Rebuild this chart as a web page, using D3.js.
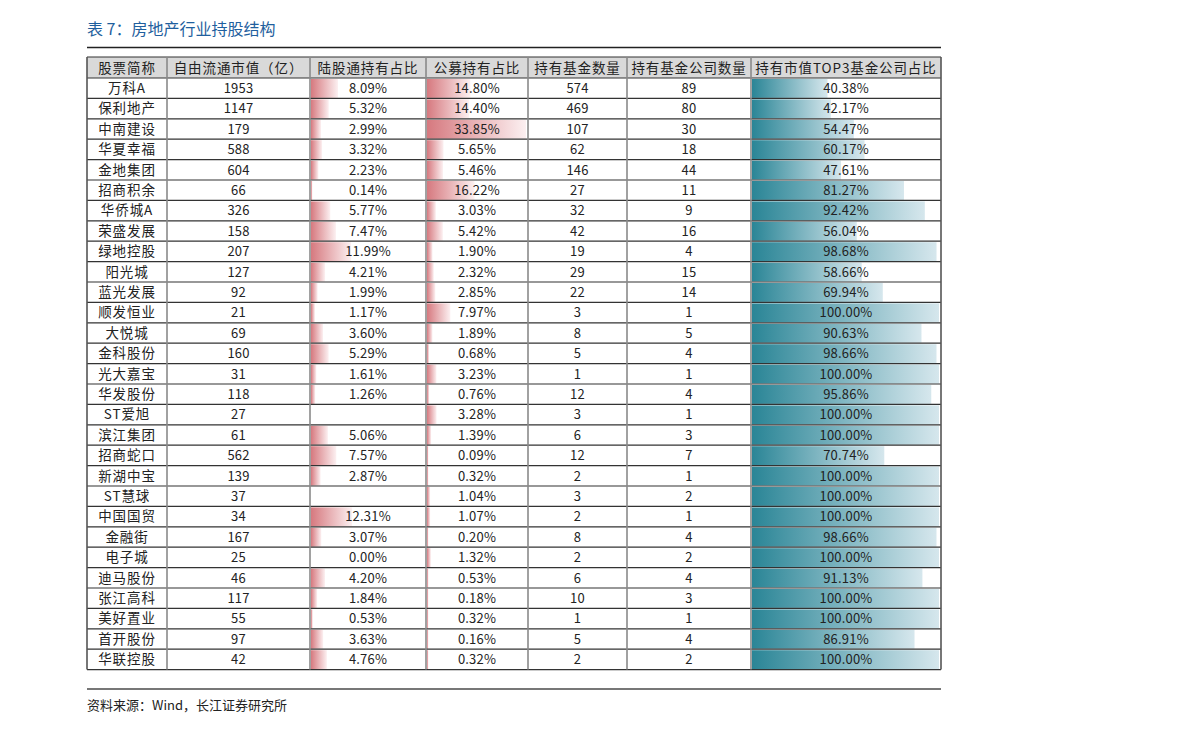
<!DOCTYPE html>
<html><head><meta charset="utf-8">
<script src="https://cdn.jsdelivr.net/npm/d3@7"></script>
<style>
body{margin:0;background:#fff;}
svg text{font-family:"Noto Sans CJK SC","DejaVu Sans",sans-serif;}
</style></head>
<body><svg id="c" width="1191" height="733"></svg>
<script>
const headers = ["股票简称","自由流通市值（亿）","陆股通持有占比","公募持有占比","持有基金数量","持有基金公司数量","持有市值TOP3基金公司占比"];
const names = ["万科A","保利地产","中南建设","华夏幸福","金地集团","招商积余","华侨城A","荣盛发展","绿地控股","阳光城","蓝光发展","顺发恒业","大悦城","金科股份","光大嘉宝","华发股份","ST爱旭","滨江集团","招商蛇口","新湖中宝","ST慧球","中国国贸","金融街","电子城","迪马股份","张江高科","美好置业","首开股份","华联控股"];
const floatCap = [1953,1147,179,588,604,66,326,158,207,127,92,21,69,160,31,118,27,61,562,139,37,34,167,25,46,117,55,97,42];
const hkShare = [8.09,5.32,2.99,3.32,2.23,0.14,5.77,7.47,11.99,4.21,1.99,1.17,3.60,5.29,1.61,1.26,null,5.06,7.57,2.87,null,12.31,3.07,0.00,4.20,1.84,0.53,3.63,4.76];
const pubShare = [14.80,14.40,33.85,5.65,5.46,16.22,3.03,5.42,1.90,2.32,2.85,7.97,1.89,0.68,3.23,0.76,3.28,1.39,0.09,0.32,1.04,1.07,0.20,1.32,0.53,0.18,0.32,0.16,0.32];
const fundCount = [574,469,107,62,146,27,32,42,19,29,22,3,8,5,1,12,3,6,12,2,3,2,8,2,6,10,1,5,2];
const companyCount = [89,80,30,18,44,11,9,16,4,15,14,1,5,4,1,4,1,3,7,1,2,1,4,2,4,3,1,4,2];
const top3Share = [40.38,42.17,54.47,60.17,47.61,81.27,92.42,56.04,98.68,58.66,69.94,100,90.63,98.66,100,95.86,100,100,70.74,100,100,100,98.66,100,91.13,100,100,86.91,100];

const svg = d3.select("#c");
const colEdges = [87,167,310,426,528,627,751,941];
const tableTop = 57, headH = 21, rowH = 20.4;
const nRows = names.length;
const yScale = d3.scaleBand().domain(d3.range(nRows)).range([tableTop+headH, tableTop+headH+rowH*nRows]).padding(0);

const defs = svg.append("defs");
function grad(id, c0, c1){
  const g = defs.append("linearGradient").attr("id",id).attr("x1","0%").attr("x2","100%").attr("y1","0").attr("y2","0");
  g.append("stop").attr("offset","0%").attr("stop-color",c0);
  g.append("stop").attr("offset","100%").attr("stop-color",c1);
}
grad("gRed","#d6797f","#fcf0f1");
grad("gTeal","#2a8596","#d6e7ed");

svg.append("text").attr("x",87).attr("y",35).attr("font-size",16).attr("fill","#1f5f9e").text("表 7：房地产行业持股结构");
svg.append("line").attr("x1",87).attr("x2",941).attr("y1",47.5).attr("y2",47.5).attr("stroke","#222").attr("stroke-width",1.3);

svg.append("rect").attr("x",colEdges[0]).attr("y",tableTop).attr("width",colEdges[7]-colEdges[0]).attr("height",headH).attr("fill","#d9d9d9");

const sharedMax = d3.max(hkShare.concat(pubShare));
function barsIdx(vals, ci, max, gid){
  const x = d3.scaleLinear().domain([0,max]).range([colEdges[ci]+1, colEdges[ci+1]-2]);
  const g = svg.append("g");
  vals.forEach((d,i)=>{
    if(d===null || d<=0) return;
    g.append("rect").attr("x",x(0)).attr("y",yScale(i)+1)
      .attr("width",Math.max(1.5,x(d)-x(0))).attr("height",yScale.bandwidth()-1.5)
      .attr("fill",`url(#${gid})`);
  });
}
barsIdx(hkShare,2,sharedMax,"gRed");
barsIdx(pubShare,3,sharedMax,"gRed");
barsIdx(top3Share,6,100,"gTeal");

headers.forEach((h,j)=>{
  svg.append("text").attr("x",(colEdges[j]+colEdges[j+1])/2).attr("y",tableTop+headH/2+5)
    .attr("text-anchor","middle").attr("font-size",13.5).attr("letter-spacing",0.9).attr("fill","#222").text(h);
});

const fmt = d3.format(".2f");
const cols = [
  names,
  floatCap.map(String),
  hkShare.map(d=>d===null?"":fmt(d)+"%"),
  pubShare.map(d=>fmt(d)+"%"),
  fundCount.map(String),
  companyCount.map(String),
  top3Share.map(d=>fmt(d)+"%")
];
cols.forEach((col,j)=>{
  col.forEach((t,i)=>{
    svg.append("text").attr("x",(colEdges[j]+colEdges[j+1])/2).attr("y",yScale(i)+rowH/2+4.8)
      .attr("text-anchor","middle").attr("font-size",j===0?13.5:13).attr("letter-spacing",j===0?0.9:0.2).attr("fill","#222").text(t);
  });
});

const bottom = tableTop+headH+rowH*nRows;
for(let i=0;i<=nRows;i++){
  const y = (i===0? tableTop : yScale(i-1)+rowH);
  svg.append("line").attr("x1",colEdges[0]).attr("x2",colEdges[7]).attr("y1",y).attr("y2",y).attr("stroke","#333").attr("stroke-width",1.2);
}
svg.append("line").attr("x1",colEdges[0]).attr("x2",colEdges[7]).attr("y1",tableTop+headH).attr("y2",tableTop+headH).attr("stroke","#333").attr("stroke-width",1.2);
colEdges.forEach((x,j)=>{
  svg.append("line").attr("x1",x).attr("x2",x).attr("y1",tableTop).attr("y2",bottom)
    .attr("stroke",(j===0||j===7)?"#555":"#8a8a8a").attr("stroke-width",1.6);
});

svg.append("line").attr("x1",87).attr("x2",941).attr("y1",689).attr("y2",689).attr("stroke","#777").attr("stroke-width",2);
svg.append("text").attr("x",87).attr("y",710).attr("font-size",13).attr("fill","#222").text("资料来源：Wind，长江证券研究所");
</script></body></html>
